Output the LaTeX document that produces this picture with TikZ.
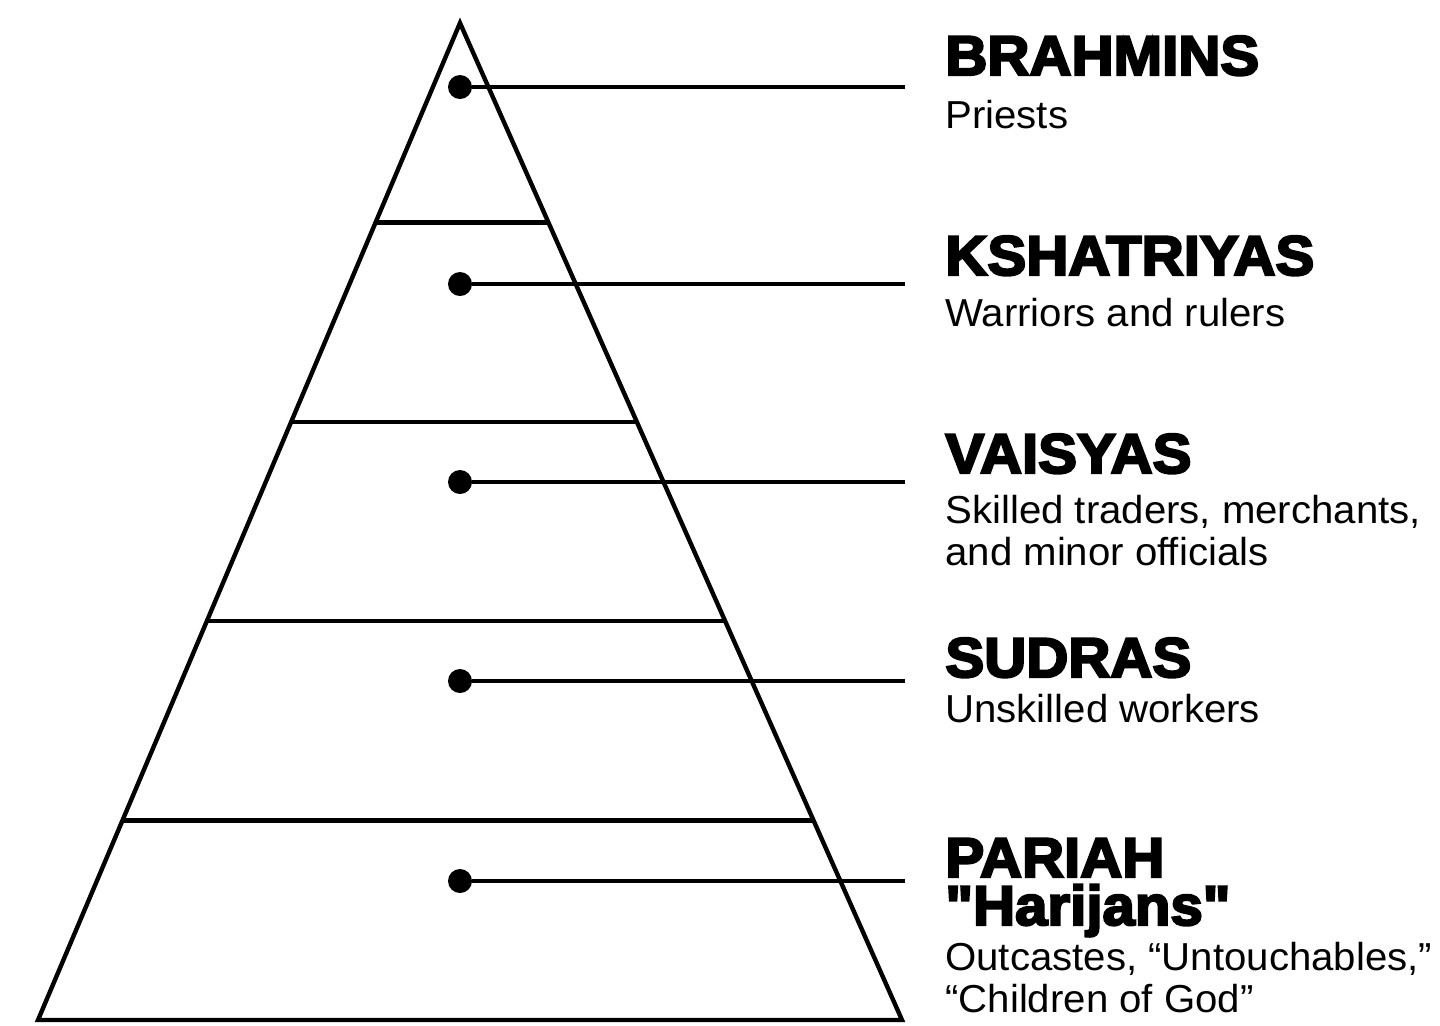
\documentclass[tikz,border=0pt]{standalone}
\usepackage{fontspec}
\setmainfont{Liberation Sans}[FakeStretch=1.03]
\newfontfamily\castefont[FakeBold=4,FakeStretch=1.04]{Liberation Sans Bold}
\usepackage{tikz}
\usetikzlibrary{calc,positioning}

\begin{document}
\begin{tikzpicture}[  x=0.5pt, y=-0.5pt,  side/.style={line width=2.2pt, line join=miter},  pointer/.style={line width=1.8pt},  dot/.style={circle, fill=black, inner sep=0pt, minimum size=12pt},  caste/.style={anchor=base west, inner sep=0pt, align=left, font=\castefont\fontsize{28}{20.5}\selectfont},  duty/.style={anchor=base west, inner sep=0pt, align=left, font=\fontsize{19.5}{21}\selectfont},  ]
  \useasboundingbox (0,0) rectangle (1440,1025);

  % pyramid
  \coordinate (top) at (460,23);
  \coordinate (bl) at (38,1020);
  \coordinate (br) at (902,1020);
  \draw[side] (top) -- (br) -- (bl) -- cycle;
  \draw[side] ($(top)!0.2!(bl)$) -- ($(top)!0.2!(br)$);
  \draw[side] ($(top)!0.4!(bl)$) -- ($(top)!0.4!(br)$);
  \draw[side] ($(top)!0.6!(bl)$) -- ($(top)!0.6!(br)$);
  \draw[side] ($(top)!0.8!(bl)$) -- ($(top)!0.8!(br)$);

  % pointers
  \node[dot] (brahmins) at (460,87) {};
  \node[dot] (kshatriyas) at (460,284) {};
  \node[dot] (vaisyas) at (460,482) {};
  \node[dot] (sudras) at (460,681) {};
  \node[dot] (pariah) at (460,881) {};
  \coordinate (brahmins end) at (905,87);
  \coordinate (kshatriyas end) at (905,284);
  \coordinate (vaisyas end) at (905,482);
  \coordinate (sudras end) at (905,681);
  \coordinate (pariah end) at (905,881);
  \draw[pointer] (brahmins) -- (brahmins end);
  \draw[pointer] (kshatriyas) -- (kshatriyas end);
  \draw[pointer] (vaisyas) -- (vaisyas end);
  \draw[pointer] (sudras) -- (sudras end);
  \draw[pointer] (pariah) -- (pariah end);

  % labels (base is the last line)
  \node[caste] (brahmins name) at (945,75) {BRAHMINS};
  \node[duty] (brahmins duty) at (945,128) {Priests};
  \node[caste] (kshatriyas name) at (945,275) {KSHATRIYAS};
  \node[duty] (kshatriyas duty) at (945,326) {Warriors and rulers};
  \node[caste] (vaisyas name) at (945,473) {VAISYAS};
  \node[duty] (vaisyas duty) at (945,565) {Skilled traders, merchants,\\ and minor officials};
  \node[caste] (sudras name) at (945,677) {SUDRAS};
  \node[duty] (sudras duty) at (945,722) {Unskilled workers};
  \node[caste] (pariah name) at (945,877) {PARIAH};
  \node[caste] (pariah alias) at (945,925) {"Harijans"};
  \node[duty] (pariah duty) at (945,1012) {Outcastes, “Untouchables,”\\ “Children of God"};
\end{tikzpicture}
\end{document}
